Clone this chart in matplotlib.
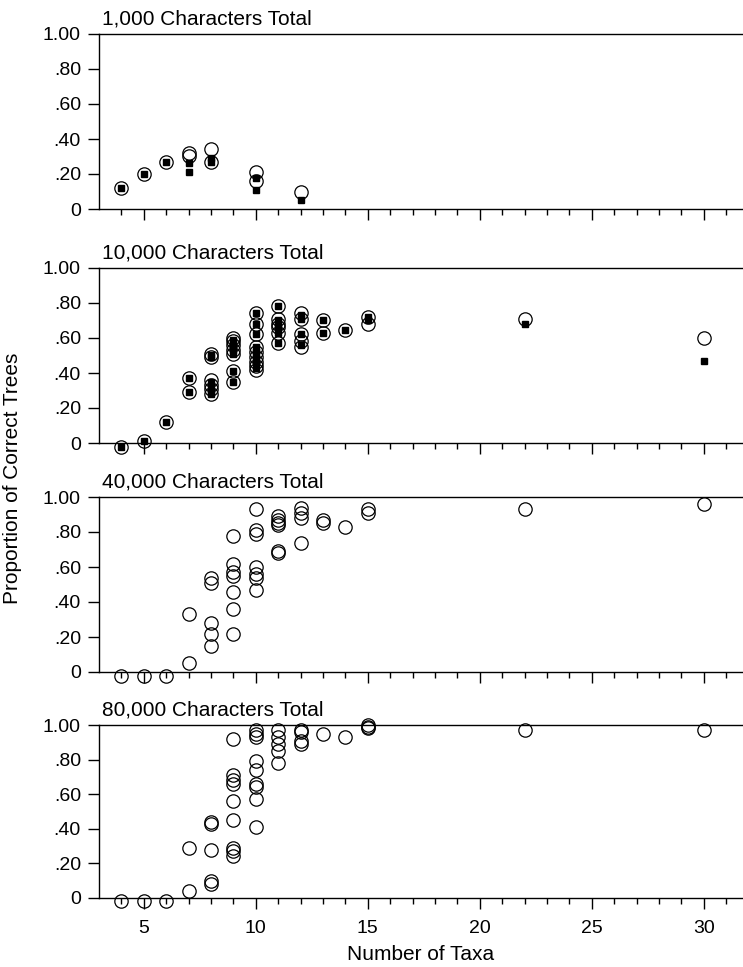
#!/usr/bin/env python3
"""
plot.py -- proportion of correct trees vs. number of taxa, four panels
(1,000 / 10,000 / 40,000 / 80,000 characters total).

Open circles and filled squares are the two methods; only the two
smallest data sets have the squares.
"""

import matplotlib
matplotlib.use("Agg")
import matplotlib.pyplot as plt  # noqa: E402
from matplotlib.ticker import FixedLocator, FuncFormatter  # noqa: E402
from matplotlib.transforms import offset_copy  # noqa: E402

plt.rcParams["font.family"] = ["Liberation Sans", "DejaVu Sans"]

PANEL_TITLES = ["1,000 Characters Total", "10,000 Characters Total",
                "40,000 Characters Total", "80,000 Characters Total"]

# --- 1,000 characters
c1_x = [4, 5, 6, 7, 7, 8, 8, 10, 10, 12]
c1_y = [.12, .20, .27, .32, .30, .34, .27, .21, .16, .10]
s1_x = [4, 5, 6, 7, 7, 8, 8, 10, 10, 12]
s1_y = [.12, .20, .27, .26, .21, .29, .27, .18, .11, .05]

# --- 10,000 characters
c2_x = [4, 5, 6, 7, 7,
        8, 8, 8, 8, 8, 8,
        9, 9, 9, 9, 9, 9, 9,
        10, 10, 10, 10, 10, 10, 10, 10, 10,
        11, 11, 11, 11, 11, 11,
        12, 12, 12, 12, 12,
        13, 13, 14, 15, 15, 22, 30]
c2_y = [-.02, .01, .12, .37, .29,
        .51, .49, .36, .33, .31, .28,
        .60, .58, .56, .53, .51, .41, .35,
        .74, .68, .62, .55, .52, .49, .46, .44, .42,
        .78, .71, .68, .66, .63, .57,
        .74, .71, .62, .58, .55,
        .70, .63, .645, .72, .68, .71, .60]
s2_x = [4, 5, 6, 7, 7,
        8, 8, 8, 8, 8, 8,
        9, 9, 9, 9, 9, 9, 9,
        10, 10, 10, 10, 10, 10, 10, 10,
        11, 11, 11, 11, 11, 11,
        12, 12, 12, 12,
        13, 13, 14, 15, 15, 22, 30]
s2_y = [-.02, .01, .12, .37, .29,
        .50, .49, .35, .32, .30, .28,
        .59, .57, .55, .53, .51, .41, .35,
        .74, .68, .62, .55, .52, .49, .46, .43,
        .78, .70, .68, .66, .63, .57,
        .73, .71, .62, .56,
        .70, .63, .645, .72, .70, .68, .47]

# --- 40,000 characters
c3_x = [4, 5, 6, 7, 7,
        8, 8, 8, 8, 8,
        9, 9, 9, 9, 9, 9, 9,
        10, 10, 10, 10, 10, 10, 10,
        11, 11, 11, 11, 11, 11,
        12, 12, 12, 12,
        13, 13, 14, 15, 15, 22, 30]
c3_y = [-.02, -.02, -.02, .05, .33,
        .54, .51, .28, .22, .15,
        .78, .62, .57, .55, .46, .36, .22,
        .93, .81, .79, .60, .56, .54, .47,
        .89, .87, .85, .84, .69, .68,
        .94, .91, .88, .74,
        .87, .85, .83, .93, .91, .93, .96]

# --- 80,000 characters
c4_x = [4, 5, 6, 7, 7,
        8, 8, 8, 8, 8,
        9, 9, 9, 9, 9, 9, 9, 9, 9,
        10, 10, 10, 10, 10, 10, 10, 10, 10,
        11, 11, 11, 11, 11,
        12, 12, 12, 12,
        13, 14, 15, 15, 15, 22, 30]
c4_y = [-.02, -.02, -.02, .04, .29,
        .10, .08, .28, .44, .43,
        .92, .71, .68, .66, .56, .45, .29, .27, .24,
        .97, .95, .93, .79, .74, .66, .64, .57, .41,
        .97, .93, .89, .85, .78,
        .97, .96, .91, .89,
        .95, .93, 1.00, .99, .98, .97, .97]

CIRCLES = [(c1_x, c1_y), (c2_x, c2_y), (c3_x, c3_y), (c4_x, c4_y)]
SQUARES = [(s1_x, s1_y), (s2_x, s2_y), None, None]

Y_TICKS = [0, .2, .4, .6, .8, 1.0]
X_TICKS = [5, 10, 15, 20, 25, 30]

# layout in pixels of the 743x967 output: (y of 1.00, y of 0) per panel
FIG_W, FIG_H = 743, 967
PANEL_PX = [(34, 209), (268, 443), (497, 672), (725, 898)]
LEFT_PX = 99
PX_PER_TAXON = 22.4
Y_BOTTOM = -0.06


def y_label(v, _pos):
    if v == 0:
        return "0"
    if v >= 1:
        return "1.00"
    return f"{v:.2f}"[1:]


def style_axes(ax, show_x):
    ax.set_xlim(3, 3 + (FIG_W - LEFT_PX) / PX_PER_TAXON)
    ax.set_ylim(Y_BOTTOM, 1.0)
    ax.spines["right"].set_visible(False)
    ax.spines["left"].set_bounds(0, 1)
    ax.spines["bottom"].set_position(("data", 0))
    for s in ("left", "bottom", "top"):
        ax.spines[s].set_linewidth(1.0)

    ax.xaxis.set_major_locator(FixedLocator(X_TICKS))
    ax.xaxis.set_minor_locator(FixedLocator(range(4, 32)))
    ax.yaxis.set_major_locator(FixedLocator(Y_TICKS))
    ax.yaxis.set_major_formatter(FuncFormatter(y_label))

    ax.tick_params(axis="x", which="major", length=8, width=1, pad=8,
                   labelsize=14, labelbottom=show_x)
    ax.tick_params(axis="x", which="minor", length=4, width=1)
    ax.tick_params(axis="y", which="major", length=8, width=1, pad=5,
                   labelsize=14)


def main():
    fig = plt.figure(figsize=(FIG_W / 100, FIG_H / 100), dpi=100)

    for i, (top_px, zero_px) in enumerate(PANEL_PX):
        unit = zero_px - top_px
        bottom_px = zero_px - Y_BOTTOM * unit
        ax = fig.add_axes([LEFT_PX / FIG_W, 1 - bottom_px / FIG_H,
                           1 - LEFT_PX / FIG_W, (bottom_px - top_px) / FIG_H])
        ax.patch.set_alpha(0)

        cx, cy = CIRCLES[i]
        ax.plot(cx, cy, "o", ms=9.6, mfc="none", mec="black", mew=0.9,
                zorder=3, clip_on=False)
        if SQUARES[i] is not None:
            sx, sy = SQUARES[i]
            ax.plot(sx, sy, "s", ms=4.2, color="black", zorder=4,
                    clip_on=False)

        style_axes(ax, show_x=(i == len(PANEL_PX) - 1))
        # title baseline sits a few pixels above the 1.00 line
        trans = offset_copy(ax.transAxes, fig=fig, x=0, y=6.5, units="points")
        ax.text(0.005, 1.0, PANEL_TITLES[i], transform=trans,
                ha="left", va="baseline", fontsize=15)

    fig.text(0.5 * (1 + LEFT_PX / FIG_W), 1 - 955 / FIG_H, "Number of Taxa",
             ha="center", va="center", fontsize=15)
    fig.text(13 / FIG_W, 1 - 478 / FIG_H, "Proportion of Correct Trees",
             rotation=90, ha="center", va="center", fontsize=15)

    fig.savefig("out.png", dpi=100)
    plt.close(fig)


if __name__ == "__main__":
    main()
